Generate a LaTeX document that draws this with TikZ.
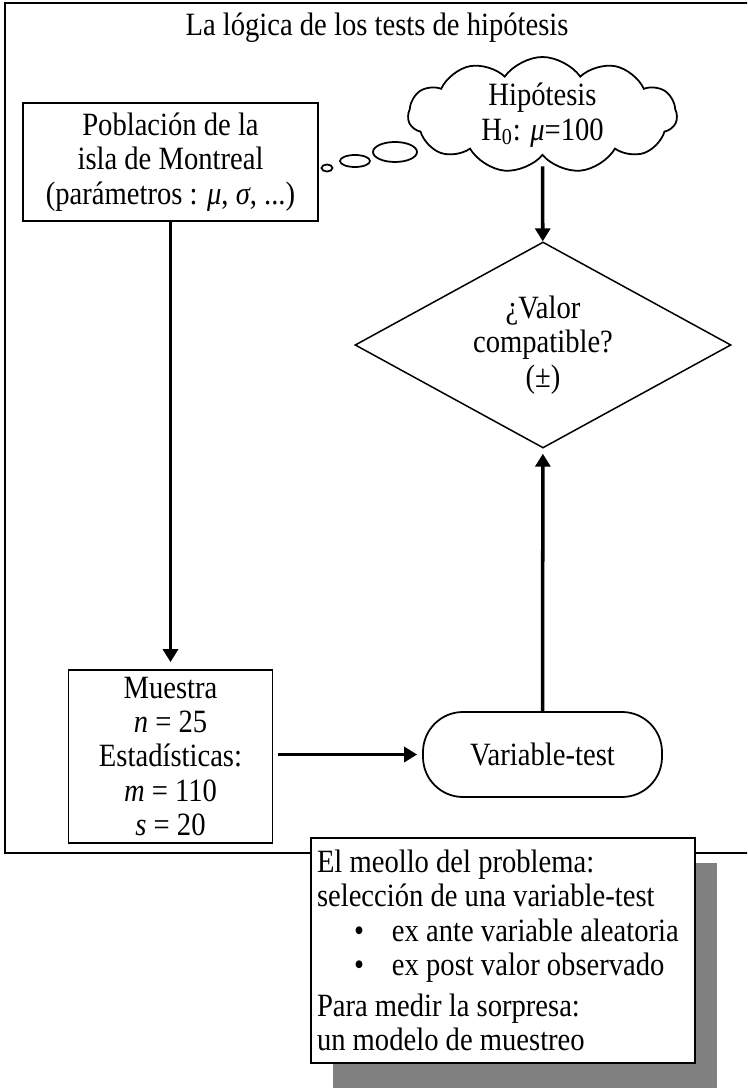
\documentclass[tikz,border=0pt]{standalone}
\usepackage{fontspec}
\setmainfont{Liberation Serif}[FakeStretch=0.88]
\usetikzlibrary{shapes.geometric,shapes.symbols,shadows,arrows.meta}
\tikzstyle{frame}=[draw=black,line width=1.5pt]
\tikzstyle{infobox}=[rectangle,draw=black,line width=1pt,fill=white,align=center,inner sep=0pt]
\tikzstyle{decision}=[diamond,draw=black,line width=0.85pt,fill=white,align=center,inner sep=0pt,aspect=1.83]
\tikzstyle{terminal}=[rectangle,rounded corners=0.8cm,draw=black,line width=1pt,fill=white]
\tikzstyle{hypcloud}=[cloud,cloud puffs=11,cloud puff arc=110,cloud ignores aspect,draw=black,line width=1pt,fill=white,inner sep=0pt]
\tikzstyle{thought}=[ellipse,draw=black,line width=1pt,fill=white,inner sep=0pt]
\tikzstyle{notebox}=[rectangle,draw=black,line width=1pt,fill=white,align=flush left,inner xsep=0.12cm,inner ysep=0pt,
  drop shadow={shadow xshift=0.44cm,shadow yshift=-0.5cm,fill=black!50,opacity=1}]
\tikzstyle{flowarrow}=[-{Triangle[length=0.26cm,width=0.3cm]},line width=2pt]

\begin{document}
\begin{tikzpicture}[font=\fontsize{18.5}{19.6}\selectfont]
  \useasboundingbox (0,0) rectangle (14.94,21.76);
  \clip (0,0) rectangle (14.94,21.76);
  \draw [frame] (0.1,21.7) rectangle (15.3,4.7);

  \node (title) at (7.54,21.2) {La lógica de los tests de hipótesis};

  \node (pop) at (3.41,18.52) [infobox,minimum width=5.9cm,minimum height=2.36cm]
    {Población de la\\isla de Montreal\\(parámetros : \textit{μ}, \textit{σ}, ...)};
  \node (hyp) at (10.85,19.46) [hypcloud,minimum width=5.38cm,minimum height=2.32cm,
    label={[align=center]center:Hipótesis\\H\textsubscript{0}: \textit{μ}=100}] {};
  \node (b1) at (6.54,18.4) [thought,minimum width=0.22cm,minimum height=0.14cm] {};
  \node (b2) at (7.1,18.54) [thought,minimum width=0.6cm,minimum height=0.24cm] {};
  \node (b3) at (7.9,18.72) [thought,minimum width=0.88cm,minimum height=0.4cm] {};

  \node (valor) at (10.86,14.86) [decision,minimum width=7.52cm,minimum height=4.12cm]
    {¿Valor\\compatible?\\(±)};

  \node (muestra) at (3.41,6.63) [infobox,minimum width=4.08cm,minimum height=3.46cm]
    {Muestra\\\textit{n} = 25\\Estadísticas:\\\textit{m} = 110\\\textit{s} = 20};
  \node (vt) at (10.85,6.67) [terminal,minimum width=4.78cm,minimum height=1.7cm] {Variable-test};

  \draw [flowarrow,shorten <=0.2cm] (hyp) -- (valor);
  \draw [flowarrow,shorten >=0.14cm] (pop) -- (muestra);
  \draw [flowarrow,shorten <=0.1cm,shorten >=0.1cm] (muestra.east |- vt) -- (vt);
  \draw [flowarrow,shorten >=0.1cm] (vt) -- (valor);

  \node (note) at (10.06,2.75) [notebox,minimum width=7.68cm,minimum height=4.5cm,text width=7.44cm]
    {El meollo del problema:\\
     selección de una variable-test\\
     \hspace*{0.74cm}\makebox[0.76cm][l]{•}ex ante variable aleatoria\\
     \hspace*{0.74cm}\makebox[0.76cm][l]{•}ex post valor observado\\[0.12cm]
     Para medir la sorpresa:\\
     un modelo de muestreo};
\end{tikzpicture}
\end{document}
